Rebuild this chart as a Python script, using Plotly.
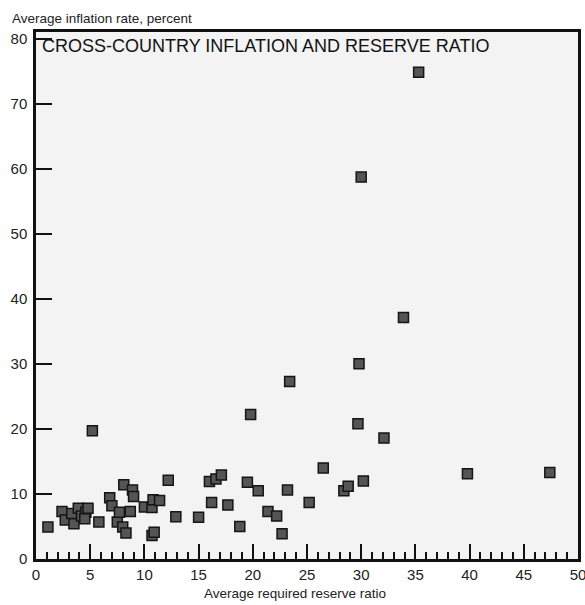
import plotly.graph_objects as go

# Average required reserve ratio (x) and average inflation rate, percent (y)
reserve_ratio = [1.1, 2.4, 2.7, 3.3, 3.5, 3.9, 4.2, 4.6, 4.8, 4.5,
                 5.2, 5.8, 6.8, 7.0, 7.5, 7.7, 8.0, 8.3, 8.1, 8.7,
                 8.9, 9.0, 10.0, 10.7, 10.8, 11.4, 10.7, 10.9, 12.2, 12.9,
                 15.0, 16.0, 16.2, 16.6, 17.1, 17.7, 18.8, 19.5, 19.8, 20.5,
                 21.4, 22.2, 22.7, 23.2, 23.4, 25.2, 26.5, 28.4, 28.8, 29.7,
                 29.8, 30.0, 30.2, 32.1, 33.9, 35.3, 39.8, 47.4]
inflation = [4.9, 7.3, 6.0, 7.0, 5.4, 7.8, 6.6, 7.2, 7.8, 6.2,
             19.7, 5.7, 9.4, 8.2, 5.7, 7.2, 4.9, 4.0, 11.4, 7.3,
             10.6, 9.6, 8.0, 7.9, 9.1, 9.0, 3.6, 4.1, 12.1, 6.5,
             6.4, 11.9, 8.7, 12.3, 12.9, 8.3, 5.0, 11.8, 22.2, 10.5,
             7.3, 6.6, 3.9, 10.6, 27.3, 8.7, 14.0, 10.5, 11.2, 20.8,
             30.0, 58.7, 12.0, 18.6, 37.1, 74.8, 13.1, 13.3]

x_ticks = [0, 5, 10, 15, 20, 25, 30, 35, 40, 45, 50]
y_ticks = [0, 10, 20, 30, 40, 50, 60, 70, 80]

title_text = "CROSS-COUNTRY INFLATION AND RESERVE RATIO"
y_title = "Average inflation rate, percent"
x_title = "Average required reserve ratio"

FONT = "Liberation Sans, Arial, sans-serif"

fig = go.Figure()
fig.add_trace(go.Scatter(
    x=reserve_ratio, y=inflation, mode="markers",
    marker=dict(symbol="square", size=10, color="#555555",
                line=dict(color="#151515", width=1.5)),
    showlegend=False, hoverinfo="x+y"))

fig.update_layout(
    width=585, height=605,
    margin=dict(l=36, r=7, t=32, b=46, autoexpand=False),
    paper_bgcolor="white",
    plot_bgcolor="#f3f3f3",
    font=dict(family=FONT, size=15, color="#222"),
    xaxis=dict(range=[0, 50], tickvals=x_ticks, ticktext=[str(v) for v in x_ticks],
               ticks="inside", ticklen=15, tickwidth=2, tickcolor="#111",
               minor=dict(dtick=1, ticks="inside", ticklen=7, tickwidth=2, tickcolor="#111"),
               showline=True, linecolor="#111", linewidth=2.5, mirror=True,
               showgrid=False, zeroline=False, fixedrange=True, automargin=False,
               ticklabeloverflow="allow",
               tickfont=dict(family=FONT, size=15, color="#222")),
    yaxis=dict(range=[0, 81], tickvals=y_ticks, ticktext=[str(v) for v in y_ticks],
               ticks="inside", ticklen=16, tickwidth=2, tickcolor="#111",
               showline=True, linecolor="#111", linewidth=2.5, mirror=True,
               showgrid=False, zeroline=False, fixedrange=True, automargin=False,
               ticklabeloverflow="allow", ticklabelstandoff=3,
               tickfont=dict(family=FONT, size=15, color="#222")),
    annotations=[
        dict(text=title_text, xref="paper", yref="paper", x=0, y=1,
             xanchor="left", yanchor="top", xshift=4, yshift=-2, showarrow=False,
             font=dict(family=FONT, size=18, color="#111")),
        dict(text=y_title, xref="paper", yref="paper", x=0, y=1,
             xanchor="left", yanchor="bottom", xshift=-26, yshift=4, showarrow=False,
             font=dict(family=FONT, size=13.5, color="#222")),
        dict(text=x_title, xref="paper", yref="paper", x=0.5, y=0,
             xanchor="center", yanchor="top", xshift=-12, yshift=-25, showarrow=False,
             font=dict(family=FONT, size=13.5, color="#222")),
    ],
)

fig.write_html("out.html")
